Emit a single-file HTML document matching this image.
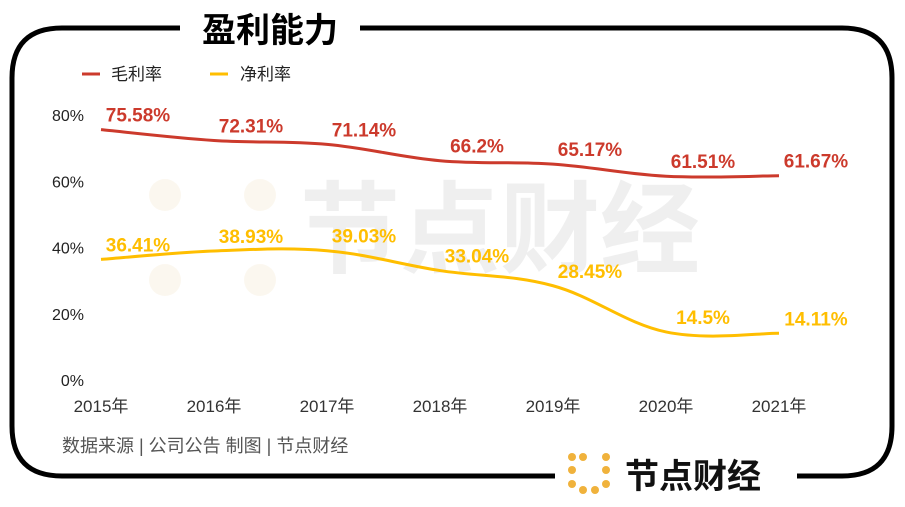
<!DOCTYPE html>
<html><head><meta charset="utf-8"><style>
body{margin:0;background:#fff;width:905px;height:502px;overflow:hidden;font-family:"Liberation Sans","Noto Sans CJK SC",sans-serif}
</style></head><body>
<svg width="905" height="502" font-family="Liberation Sans, Noto Sans CJK SC, sans-serif">
<path d="M180,28 H62 Q12,28 12,78 V426 Q12,476 62,476 H555 M797,476 H842 Q892,476 892,426 V78 Q892,28 842,28 H360" fill="none" stroke="#000" stroke-width="5"/>
<text x="270" y="42" text-anchor="middle" font-size="34" font-weight="bold" fill="#000">盈利能力</text>
<g opacity="0.06" fill="#c98a00">
<text x="300" y="265" font-size="100" font-weight="bold" fill="#000">节点财经</text>
<circle cx="165" cy="195" r="16"/><circle cx="260" cy="195" r="16"/><circle cx="165" cy="280" r="16"/><circle cx="260" cy="280" r="16"/>
</g>
<g>
<line x1="82" y1="74" x2="100" y2="74" stroke="#cc3a2c" stroke-width="3"/>
<text x="111" y="80" font-size="17" fill="#222">毛利率</text>
<line x1="210" y1="74" x2="228" y2="74" stroke="#ffbe00" stroke-width="3"/>
<text x="240" y="80" font-size="17" fill="#222">净利率</text>
</g>
<g id="yaxis"></g>
<g id="xaxis"></g>
<g id="series"></g>
<text x="62" y="452" font-size="18" fill="#555">数据来源 | 公司公告  制图 | 节点财经</text>
<g>
<g fill="#f0b23c"><circle cx="572" cy="457" r="4"/><circle cx="583" cy="457" r="4"/><circle cx="606" cy="457" r="4"/><circle cx="572" cy="470" r="4"/><circle cx="606" cy="470" r="4"/><circle cx="572" cy="484" r="4"/><circle cx="583" cy="490" r="4"/><circle cx="595" cy="490" r="4"/><circle cx="606" cy="484" r="4"/></g>
<text x="625" y="488" font-size="34" font-weight="bold" fill="#111">节点财经</text>
</g>
</svg>
<script>
const years=["2015年","2016年","2017年","2018年","2019年","2020年","2021年"];
const grossMargin=[75.58,72.31,71.14,66.2,65.17,61.51,61.67];
const netMargin=[36.41,38.93,39.03,33.04,28.45,14.5,14.11];
const yTicks=[0,20,40,60,80];
const NS="http://www.w3.org/2000/svg";
const xs=i=>101+i*113, ys=v=>380-v*3.3125;
function mk(t,a,p){const e=document.createElementNS(NS,t);for(const k in a)e.setAttribute(k,a[k]);p.appendChild(e);return e;}
const ya=document.getElementById('yaxis'),xa=document.getElementById('xaxis'),sg=document.getElementById('series');
yTicks.forEach(v=>{const t=mk('text',{x:84,y:ys(v)+6,'text-anchor':'end','font-size':16,fill:'#222'},ya);t.textContent=v+'%';

});
years.forEach((y,i)=>{const t=mk('text',{x:xs(i),y:412,'text-anchor':'middle','font-size':17,fill:'#333'},xa);t.textContent=y;

});
function path(vals){const p=vals.map((v,i)=>[xs(i),ys(v)]);let d='M'+p[0];
for(let i=0;i<p.length-1;i++){const p0=p[i-1]||p[i],p1=p[i],p2=p[i+1],p3=p[i+2]||p2,k=0.18;
d+=' C'+(p1[0]+(p2[0]-p0[0])*k)+','+(p1[1]+(p2[1]-p0[1])*k)+' '+(p2[0]-(p3[0]-p1[0])*k)+','+(p2[1]-(p3[1]-p1[1])*k)+' '+p2;}return d;}
[[grossMargin,'#cc3a2c','gross-margin'],[netMargin,'#ffbe00','net-margin']].forEach(([vals,c,n])=>{
const l=mk('path',{d:path(vals),fill:'none',stroke:c,'stroke-width':3},sg);


vals.forEach((v,i)=>{const t=mk('text',{x:xs(i)+37,y:ys(v)-8,'text-anchor':'middle','font-size':19,'font-weight':'bold',fill:c},sg);
t.textContent=v+'%';

});
});
</script>
</body></html>
